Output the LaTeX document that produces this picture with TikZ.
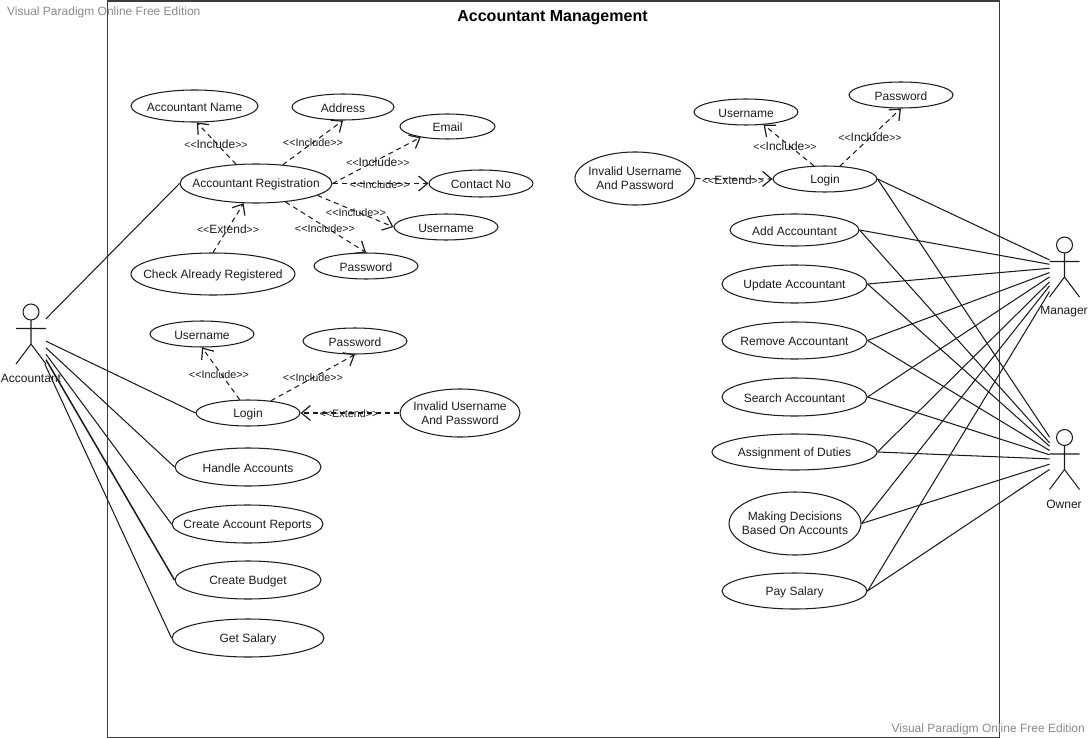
\documentclass[tikz,border=0pt]{standalone}
\usepackage{fontspec}
\setmainfont{Liberation Sans}
\usetikzlibrary{shapes.geometric,arrows.meta}
\definecolor{ink}{HTML}{1C1C1C}
\definecolor{wm}{HTML}{8A8A8A}
\definecolor{framec}{HTML}{3C3C3C}
\tikzset{
  x=1pt,y=-1pt,
  base/.style={font=\fontsize{12}{14}\selectfont,text=ink},
  uc/.style={base,draw=ink,line width=1.05pt,ellipse,inner sep=0pt,fill=none},
  assoc/.style={draw=ink,line width=1.05pt},
  rel/.style={draw=ink,line width=1.05pt,dashed,dash pattern=on 5pt off 4pt,-{Straight Barb[length=9pt,width=15pt,line width=1.2pt]}},
  lab/.style={font=\fontsize{12}{14}\selectfont,text=ink,inner sep=0pt},
  labs/.style={font=\fontsize{10.8}{14}\selectfont,text=ink,inner sep=0pt},
  actorbox/.style={minimum width=30pt,minimum height=60pt,inner sep=0pt,outer sep=0pt},
  actorname/.style={base,inner sep=0pt},
  water/.style={font=\fontsize{12}{14}\selectfont,text=wm,inner sep=0pt}
}
\newcommand{\uca}[5]{\node[uc,minimum width=#3pt,minimum height=#4pt] (#1) at (#2) {\makebox[0pt]{\raisebox{-1.2pt}[\height][\depth]{#5}}};}
\newcommand{\ucb}[6]{\node[uc,minimum width=#3pt,minimum height=#4pt] (#1) at (#2) {\makebox[0pt]{\raisebox{-1.2pt}[\height][\depth]{\begin{tabular}{@{}c@{}}#5\\#6\end{tabular}}}};}
\newcommand{\biginc}{{\fontsize{10.5}{14}\selectfont<{}<}Include{\fontsize{10.5}{14}\selectfont>{}>}}
\newcommand{\bigext}{{\fontsize{10.5}{14}\selectfont<{}<}Extend{\fontsize{10.5}{14}\selectfont>{}>}}
\newcommand{\stickman}[1]{%
  \begin{scope}[shift={(#1.center)}]
    \draw[assoc] (0,-22) circle[radius=8pt];
    \draw[assoc] (0,-14) -- (0,10) (-15,-5.5) -- (15,-5.5) (-15,30) -- (0,10) -- (15,30);
  \end{scope}}
\begin{document}
\begin{tikzpicture}
\useasboundingbox (0,0) rectangle (1091,738);
\node[draw=framec,line width=1.4pt,minimum width=892pt,minimum height=737pt,inner sep=0pt,anchor=north west] (frame) at (107,0.3) {};
\node[font=\bfseries\fontsize{16}{18}\selectfont,text=black,inner sep=0pt] (title) at (552.5,18) {Accountant Management};
\node[water,anchor=west] (wma) at (7,12) {Visual Paradigm Online Free Edition};
\node[water,anchor=east] (wmb) at (1085,729) {Visual Paradigm Online Free Edition};

% actors
\node[actorbox] (acc) at (31,334) {};
\node[actorbox] (mgr) at (1064.5,267) {};
\node[actorbox] (own) at (1064.5,459.5) {};
\stickman{acc}\stickman{mgr}\stickman{own}
\node[actorname] (accn) at (31,378) {Accountant};
\node[actorname] (mgrn) at (1064,312) {Manager};
\node[actorname] (ownn) at (1064,504) {Owner};

% left use cases
\uca{name}{194.5,106}{127}{32}{Accountant Name}
\uca{addr}{343,107}{102}{26}{Address}
\uca{email}{447.5,126.5}{95}{25}{Email}
\uca{contact}{481,183.5}{104}{27}{Contact No}
\uca{runame}{446,227}{104}{26}{Username}
\uca{rpass}{366,266}{104}{26}{Password}
\uca{reg}{256,183.5}{152}{39}{Accountant Registration}
\uca{check}{213,274}{164}{42}{Check Already Registered}
\uca{luser}{202,334}{104}{26}{Username}
\uca{lpass}{355,341}{104}{26}{Password}
\uca{llogin}{248,413}{104}{26}{Login}
\ucb{linv}{460,413}{120}{48}{Invalid Username}{And Password}
\uca{handle}{248,467}{146}{38}{Handle Accounts}
\uca{report}{247.5,524}{151}{38}{Create Account Reports}
\uca{budget}{248,580}{146}{38}{Create Budget}
\uca{salary}{248,638}{152}{38}{Get Salary}

% right use cases
\uca{ruser}{746,112}{104}{26}{Username}
\uca{rpw}{901,95}{104}{26}{Password}
\ucb{rinv}{635,178.5}{120}{53}{Invalid Username}{And Password}
\uca{rlogin}{825,179}{104}{26}{Login}
\uca{add}{794.5,230}{129}{32}{Add Accountant}
\uca{update}{794.5,284}{145}{38}{Update Accountant}
\uca{remove}{794.5,340.5}{145}{37}{Remove Accountant}
\uca{search}{794.5,397}{145}{38}{Search Accountant}
\uca{assign}{794.5,452}{165}{36}{Assignment of Duties}
\ucb{decide}{795,523.5}{132}{63}{Making Decisions}{Based On Accounts}
\uca{pay}{794.5,591}{145}{36}{Pay Salary}

% associations, accountant
\draw[assoc] (reg.west) -- (acc);
\draw[assoc] (llogin.west) -- (acc);
\draw[assoc] (handle.west) -- (acc);
\draw[assoc] (report.west) -- (acc);
\draw[assoc,line width=1.5pt] (budget.west) -- (acc);
\draw[assoc] (salary.west) -- (acc);

% associations, manager and owner
\foreach \u in {rlogin,add,update,remove,search,assign,decide,pay}{
  \draw[assoc] (\u.east) -- (mgr);
  \draw[assoc] (\u.east) -- (own);
}

% include / extend
\draw[rel] (reg.136) -- (name.-82);
\draw[rel] (reg.35) -- (addr.south);
\draw[rel] (reg.east) -- (email.-158);
\draw[rel] (reg.east) -- (contact.west);
\draw[rel] (reg.-11) -- (runame.west);
\draw[rel] (reg.-32) -- (rpass.north);
\draw[rel] (check.north) -- (reg.-122);
\draw[rel] (llogin.122) -- (luser.south);
\draw[rel] (llogin.28) -- (lpass.south);
\draw[rel] (linv.west) -- (llogin.east);
\draw[rel] (rlogin.130) -- (ruser.-36);
\draw[rel] (rlogin.41) -- (rpw.south);
\draw[rel] (rinv.east) -- (rlogin.west);

\node[lab] (l1) at (216,144) {\biginc};
\node[labs] (l2) at (313,143) {<{}<Include>{}>};
\node[lab] (l3) at (378,162) {\biginc};
\node[labs] (l4) at (380,185) {<{}<Include>{}>};
\node[labs] (l5) at (356,213) {<{}<Include>{}>};
\node[labs] (l6) at (325,229) {<{}<Include>{}>};
\node[lab] (l7) at (228,229) {\bigext};
\node[labs] (l8) at (219,375) {<{}<Include>{}>};
\node[labs] (l9) at (313,378) {<{}<Include>{}>};
\node[labs] (l10) at (349,414) {<{}<Extend>{}>};
\node[lab] (l11) at (785,146) {\biginc};
\node[lab] (l12) at (870,137) {\biginc};
\node[lab] (l13) at (733,180) {\bigext};
\end{tikzpicture}
\end{document}
